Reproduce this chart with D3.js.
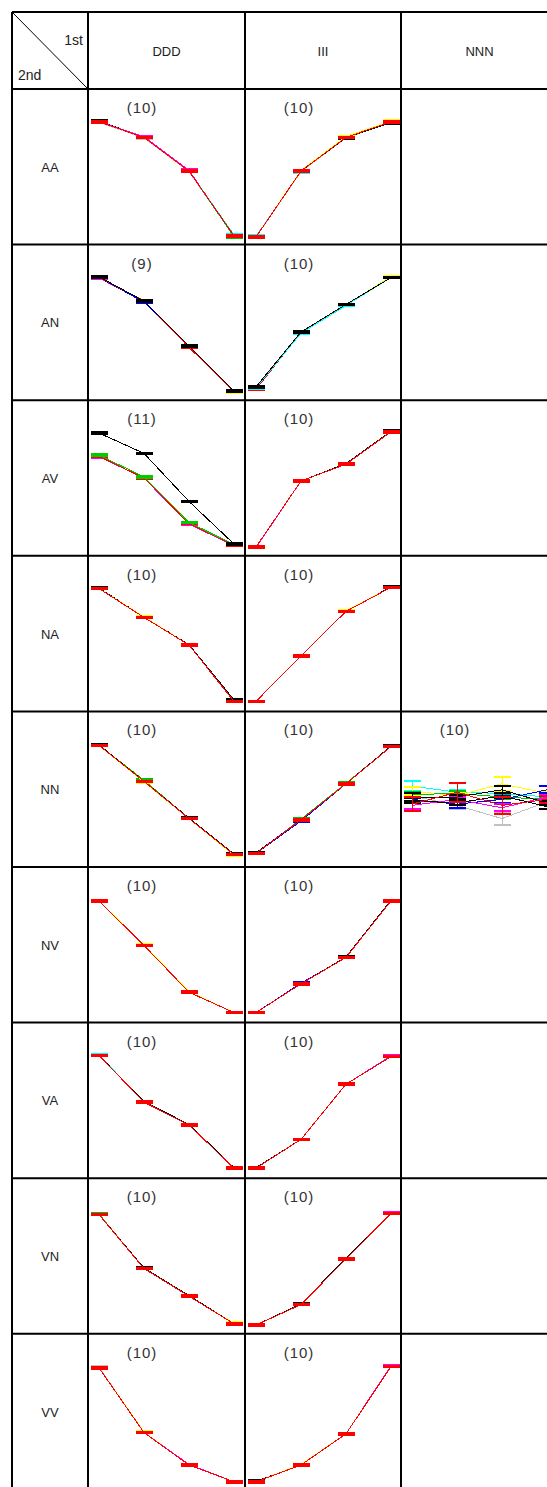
<!DOCTYPE html>
<html>
<head>
<meta charset="utf-8">
<script src="https://cdn.jsdelivr.net/npm/d3@7"></script>
<style>
  body { margin: 0; background: #fff; }
  svg { display: block; }
</style>
</head>
<body>
<div id="chart"></div>
<script>
// Table labels
const rowNames = ["AA", "AN", "AV", "NA", "NN", "NV", "VA", "VN", "VV"];
const colNames = ["DDD", "III", "NNN"];

// Number of runs shown in each cell (null = empty cell)
const dddCounts = [10, 9, 11, 10, 10, 10, 10, 10, 10];
const iiiCounts = [10, 10, 10, 10, 10, 10, 10, 10, 10];
const nnnCounts = [null, null, null, null, 10, null, null, null, null];

const steps = [1, 2, 3, 4];

// Series per cell: [colour, mean at each step, error half-width]
const dddSeries = [
    // AA
    [["#c0c0c0", [95.5, 82.5, 54.5, 0.5], 0.7], ["#000000", [96.8, 83, 55, 1], 0.7], ["#ff00ff", [96, 83.6, 55.6, 1], 0.7],
     ["#00ffff", [96, 83, 55, 1.8], 0.7], ["#00c000", [96, 83, 55, 0.2], 0.7], ["#ff0000", [96, 83, 55, 1], 0.7]],
    // AN
    [["#ffff00", [96, 76, 38.5, 0.6], 0.7], ["#ff00ff", [95.5, 76, 38, 1], 0.7], ["#0000ff", [96, 75.3, 38, 1], 0.7],
     ["#ff0000", [96, 76.5, 37.6, 1.2], 0.7], ["#000000", [96.5, 76.3, 38.6, 1.5], 0.7]],
    // AV
    [["#ff00ff", [76.2, 58.5, 20, 2.2], 0.7], ["#ff0000", [76.5, 58.5, 20.5, 2.5], 0.7],
     ["#00cc00", [77.5, 59.5, 21.5, 3], 0.7], ["#000000", [96, 79, 39, 3.5], 0.7]],
    // NA
    [["#000000", [96.5, 72.3, 49.3, 3.3], 0.7], ["#ffff00", [96, 72.5, 49, 2], 0.7], ["#ff0000", [96, 72, 49, 2], 0.7]],
    // NN
    [["#00c000", [95, 66, 34, 4], 0.7], ["#000000", [95.5, 65, 34.5, 4.5], 0.7], ["#ffff00", [95, 64.5, 34, 3.5], 0.7],
     ["#ff0000", [95, 65, 34, 4], 0.7]],
    // NV
    [["#ff00ff", [95, 58, 19, 2], 0.7], ["#ffff00", [95, 58.5, 19.5, 2], 0.7], ["#ff0000", [95, 58, 19, 2], 0.7]],
    // VA
    [["#00ffff", [96.5, 57, 38, 2], 0.7], ["#000000", [96, 57.5, 38.5, 2.5], 0.7], ["#ffff00", [96, 57, 38, 2], 0.7],
     ["#ff0000", [96, 57, 38, 2], 0.7]],
    // VN
    [["#00c000", [93.5, 48, 25, 2], 0.7], ["#ffff00", [93, 48, 25, 2.5], 0.7], ["#000000", [93, 48.5, 25.5, 2], 0.7],
     ["#ff0000", [93, 48, 25, 2], 0.7]],
    // VV
    [["#c0c0c0", [95.5, 41, 14, 0], 0.7], ["#ffff00", [95, 41.5, 14, 0], 0.7], ["#ff00ff", [95, 41, 14.5, 0], 0.7],
     ["#ff0000", [95, 41, 14, 0], 0.7]]
];

const iiiSeries = [
    // AA
    [["#00ffff", [0.6, 54.4, 83, 96], 0.7], ["#c0c0c0", [0, 54.5, 82.5, 95.5], 0.7], ["#000000", [0, 55, 82.7, 95.2], 0.7],
     ["#ffff00", [0, 55.5, 83.7, 96.5], 0.7], ["#ff0000", [0, 55, 83, 96], 0.7]],
    // AN
    [["#ff0000", [2.8, 50, 73, 96.4], 0.7], ["#0000ff", [3.8, 50.2, 73.2, 96], 0.7], ["#ffff00", [4, 50, 73, 96.8], 0.7],
     ["#00ffff", [4, 49.5, 72.5, 96], 0.7], ["#000000", [4.8, 50.5, 73.5, 95.8], 0.7]],
    // AV
    [["#ff00ff", [0.5, 56, 70, 97], 0.7], ["#000000", [1, 56, 70.5, 97.5], 0.7], ["#ff0000", [1, 56, 70, 97], 0.7]],
    // NA
    [["#000000", [2, 40, 77, 97.5], 0.7], ["#ffff00", [2, 40, 77.5, 97], 0.7], ["#ff0000", [2, 40, 77, 97], 0.7]],
    // NN
    [["#0000ff", [5, 32, 63, 94], 0.7], ["#00c000", [5, 33.5, 63.5, 94], 0.7], ["#000000", [5.5, 33, 63, 94.5], 0.7],
     ["#ff0000", [5, 33, 63, 94], 0.7]],
    // NV
    [["#0000ff", [2, 26.5, 48, 95], 0.7], ["#000000", [2, 26, 48.5, 95.5], 0.7], ["#ff0000", [2, 26, 48, 95], 0.7]],
    // VA
    [["#00c000", [2, 26, 72, 95], 0.7], ["#ff00ff", [2, 26, 72, 95.5], 0.7], ["#000000", [2.5, 26, 72, 95], 0.7],
     ["#ff0000", [2, 26, 72, 95], 0.7]],
    // VN
    [["#ff00ff", [1, 18, 56, 94.5], 0.7], ["#000000", [1, 18.5, 56.5, 94], 0.7], ["#ff0000", [1, 18, 56, 94], 0.7]],
    // VV
    [["#000000", [0.5, 14, 40, 96], 0.7], ["#ffff00", [0, 14.5, 40, 96], 0.7], ["#ff00ff", [0, 14, 40, 96.5], 0.7],
     ["#ff0000", [0, 14, 40, 96], 0.7]]
];

// NNN only has data in the NN row; errors given per step
const nnnSeries = [
    null, null, null, null,
    [["#c0c0c0", [53, 45, 34, 48], [2, 3, 5, 2]],
     ["#00ffff", [61, 56, 55, 52], [4, 2, 2, 2]],
     ["#ffff00", [57, 53, 63, 55], [3, 2, 6, 2]],
     ["#00c000", [54, 55, 52, 50], [2, 2, 2, 2]],
     ["#0000ff", [50, 46, 50, 58], [2, 3, 3, 3]],
     ["#ff00ff", [45, 50, 43, 52], [3, 2, 3, 2]],
     ["#000000", [52, 52, 58, 47], [3, 2, 3, 2]],
     ["#000000", [49, 47, 53, 44], [2, 2, 2, 2]],
     ["#ff0000", [46, 56, 45, 50], [6, 8, 7, 3]]],
    null, null, null, null
];

const width = 547, height = 1487;
const tableLeft = 12, tableTop = 12;
const labelW = 76, headH = 77, rowH = 155.6;
const colW = [157, 156, 157];
const colX = [tableLeft + labelW, tableLeft + labelW + colW[0], tableLeft + labelW + colW[0] + colW[1]];
const font = "'Liberation Sans', Arial, sans-serif";

const svg = d3.select("#chart")
    .append("svg")
    .attr("width", width)
    .attr("height", height);

const tableRight = colX[2] + colW[2];
const tableBottom = tableTop + headH + rowH * rowNames.length;

// Cell contents
const x = d3.scalePoint().domain(steps).range([11, 146]);
const y = d3.scaleLinear().domain([0, 100]).range([148, 28]);

function drawCell(g, series, count) {
    const line = d3.line().x((d, i) => x(steps[i])).y(d => y(d));

    if (count != null) {
        g.append("text")
            .attr("x", 54)
            .attr("y", 24)
            .attr("text-anchor", "middle")
            .style("font-family", font)
            .style("font-size", "15px")
            .style("letter-spacing", "1px")
            .style("fill", "#333")
            .text(`(${count})`);
    }
    if (!series) return;

    series.forEach(s => {
        const [color, vals, err] = s;
        const errs = Array.isArray(err) ? err : vals.map(() => err);
        g.append("path")
            .attr("d", line(vals))
            .attr("fill", "none")
            .attr("stroke", color)
            .attr("stroke-width", 1)
            .attr("shape-rendering", "crispEdges");

        vals.forEach((v, i) => {
            const cx = x(steps[i]);
            g.append("line")
                .attr("x1", cx).attr("x2", cx)
                .attr("y1", y(v - errs[i])).attr("y2", y(v + errs[i]))
                .attr("stroke", color).attr("stroke-width", 1)
                .attr("shape-rendering", "crispEdges");
            [v - errs[i], v + errs[i]].forEach(e => {
                g.append("line")
                    .attr("x1", cx - 8.5).attr("x2", cx + 8.5)
                    .attr("y1", y(e)).attr("y2", y(e))
                    .attr("stroke", color).attr("stroke-width", 2)
                    .attr("shape-rendering", "crispEdges");
            });
        });
    });
}

const allSeries = [dddSeries, iiiSeries, nnnSeries];
const allCounts = [dddCounts, iiiCounts, nnnCounts];

rowNames.forEach((r, ri) => {
    const rowTop = tableTop + headH + rowH * ri;
    colNames.forEach((c, ci) => {
        const g = svg.append("g")
            .attr("transform", `translate(${colX[ci]},${rowTop})`);
        drawCell(g, allSeries[ci][ri], allCounts[ci][ri]);
    });

    // Row label
    svg.append("text")
        .attr("x", tableLeft + labelW / 2)
        .attr("y", rowTop + rowH / 2 + 5)
        .attr("text-anchor", "middle")
        .style("font-family", font)
        .style("font-size", "13px")
        .style("fill", "#222")
        .text(r);
});

// Header
colNames.forEach((c, ci) => {
    svg.append("text")
        .attr("x", colX[ci] + colW[ci] / 2)
        .attr("y", tableTop + headH / 2 + 5)
        .attr("text-anchor", "middle")
        .style("font-family", font)
        .style("font-size", "13px")
        .style("fill", "#222")
        .text(c);
});

svg.append("line")
    .attr("x1", tableLeft).attr("y1", tableTop)
    .attr("x2", tableLeft + labelW).attr("y2", tableTop + headH)
    .attr("stroke", "#000").attr("stroke-width", 1);

svg.append("text")
    .attr("x", tableLeft + labelW - 5)
    .attr("y", tableTop + 33)
    .attr("text-anchor", "end")
    .style("font-family", font)
    .style("font-size", "14px")
    .style("fill", "#222")
    .text("1st");

svg.append("text")
    .attr("x", tableLeft + 6)
    .attr("y", tableTop + 68)
    .style("font-family", font)
    .style("font-size", "14px")
    .style("fill", "#222")
    .text("2nd");

// Grid lines
const vLines = [tableLeft, ...colX, tableRight];
vLines.forEach(vx => {
    svg.append("line")
        .attr("x1", vx).attr("x2", vx)
        .attr("y1", tableTop).attr("y2", tableBottom)
        .attr("stroke", "#000").attr("stroke-width", 2);
});

const hLines = [tableTop, tableTop + headH, ...rowNames.map((r, i) => tableTop + headH + rowH * (i + 1))];
hLines.forEach(hy => {
    svg.append("line")
        .attr("x1", tableLeft).attr("x2", tableRight)
        .attr("y1", hy).attr("y2", hy)
        .attr("stroke", "#000").attr("stroke-width", 2);
});
</script>
</body>
</html>
